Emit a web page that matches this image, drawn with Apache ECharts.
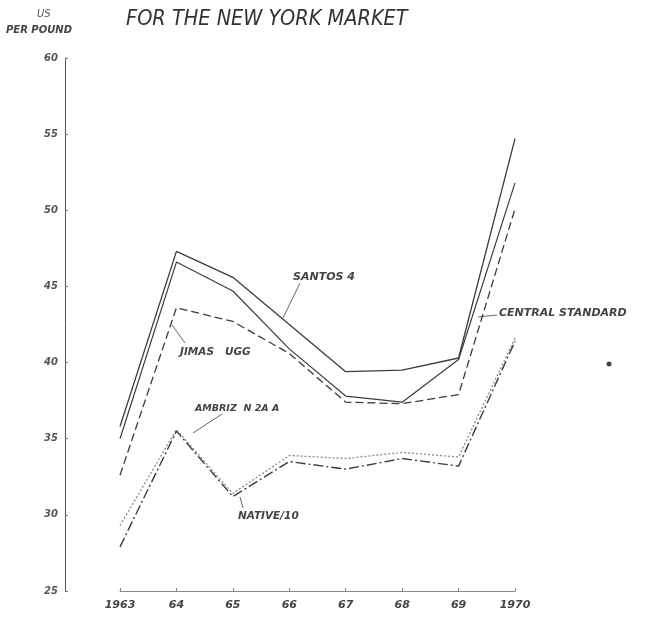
<!DOCTYPE html>
<html>
<head>
<meta charset="utf-8">
<script src="https://cdn.jsdelivr.net/npm/echarts@6/dist/echarts.min.js"></script>
<style>
  html, body { margin: 0; padding: 0; background: #ffffff; }
  #chart { width: 646px; height: 620px; }
</style>
</head>
<body>
<div id="chart"></div>
<script>
// Coffee prices, New York market, US cents per pound
const years = ['1963', '1964', '1965', '1966', '1967', '1968', '1969', '1970'];
const yearLabels = ['1963', '64', '65', '66', '67', '68', '69', '1970'];
const yTicks = [25, 30, 35, 40, 45, 50, 55, 60];

const santos4 = [35.8, 47.3, 45.6, 42.5, 39.4, 39.5, 40.3, 54.7];
const centralStandard = [35.0, 46.6, 44.7, 40.9, 37.8, 37.4, 40.2, 51.8];
const jimasUgg = [32.6, 43.6, 42.7, 40.6, 37.4, 37.3, 37.9, 50.1];
const ambrizN2AA = [29.3, 35.6, 31.4, 33.9, 33.7, 34.1, 33.8, 41.6];
const native10 = [27.9, 35.5, 31.2, 33.5, 33.0, 33.7, 33.2, 41.4];

const ink = '#3c3c3c';
const labelFont = '"DejaVu Sans", sans-serif';

function lineSeries(name, data, type, width, color) {
  return {
    name: name,
    type: 'line',
    data: data,
    symbol: 'none',
    smooth: false,
    lineStyle: { color: color || ink, width: width, type: type }
  };
}

function note(text, x, y, size) {
  return {
    type: 'text', left: x, top: y,
    style: {
      text: text, fill: '#444', font: 'italic bold ' + size + 'px ' + labelFont
    }
  };
}

function leader(x1, y1, x2, y2) {
  return {
    type: 'line',
    shape: { x1: x1, y1: y1, x2: x2, y2: y2 },
    style: { stroke: '#666', lineWidth: 1 }
  };
}

const chart = echarts.init(document.getElementById('chart'), null, { renderer: 'canvas' });

chart.setOption({
  animation: false,
  backgroundColor: '#ffffff',
  title: {
    text: 'FOR THE NEW YORK MARKET',
    left: 121, top: 3,
    textStyle: {
      fontFamily: '"Liberation Sans Narrow", "DejaVu Sans Condensed", sans-serif',
      fontStyle: 'italic', fontWeight: 'normal', fontSize: 21.5, color: '#333'
    }
  },
  grid: { left: 120, right: 131, top: 58, bottom: 29, containLabel: false },
  xAxis: {
    type: 'category',
    data: years,
    boundaryGap: false,
    axisLine: { show: true, lineStyle: { color: '#888', width: 1 } },
    axisTick: { show: true, inside: true, length: 3, lineStyle: { color: '#888' } },
    axisLabel: {
      margin: 9,
      formatter: function (v, i) { return yearLabels[i]; },
      fontFamily: labelFont, fontStyle: 'italic', fontWeight: 'bold',
      fontSize: 11, color: '#444'
    },
    splitLine: { show: false }
  },
  yAxis: {
    type: 'value',
    min: yTicks[0], max: yTicks[yTicks.length - 1], interval: 5,
    offset: 55,
    axisLine: { show: true, lineStyle: { color: '#555', width: 1 } },
    axisTick: { show: true, inside: true, length: 3, lineStyle: { color: '#777' } },
    axisLabel: {
      margin: 7,
      fontFamily: labelFont, fontStyle: 'italic', fontWeight: 'bold',
      fontSize: 10, color: '#555'
    },
    splitLine: { show: false }
  },
  series: [
    lineSeries('SANTOS 4', santos4, 'solid', 1.3),
    lineSeries('CENTRAL STANDARD', centralStandard, 'solid', 1.2),
    lineSeries('JIMAS UGG', jimasUgg, [8, 4], 1.3),
    lineSeries('AMBRIZ N 2AA', ambrizN2AA, [2, 2], 1.3, '#8a8a8a'),
    lineSeries('NATIVE/10', native10, [10, 3, 2, 3], 1.4)
  ],
  graphic: [
    { type: 'text', left: 37, top: 9,
      style: { text: 'US', fill: '#555', font: 'italic 10px ' + labelFont } },
    { type: 'text', left: 6, top: 25,
      style: { text: 'PER POUND', fill: '#444', font: 'italic bold 10px ' + labelFont } },
    note('SANTOS 4', 293, 272, 11),
    leader(300, 283, 283, 318),
    note('CENTRAL STANDARD', 499, 308, 11),
    leader(497, 315, 478, 317),
    note('JIMAS   UGG', 180, 347, 10.5),
    leader(185, 343, 172, 325),
    note('AMBRIZ  N 2A A', 195, 404, 9.5),
    leader(222, 414, 193, 433),
    note('NATIVE/10', 238, 511, 10.5),
    leader(243, 508, 240, 497),
    { type: 'circle', shape: { cx: 609, cy: 364, r: 2.5 }, style: { fill: '#444' } }
  ]
});
</script>
</body>
</html>
